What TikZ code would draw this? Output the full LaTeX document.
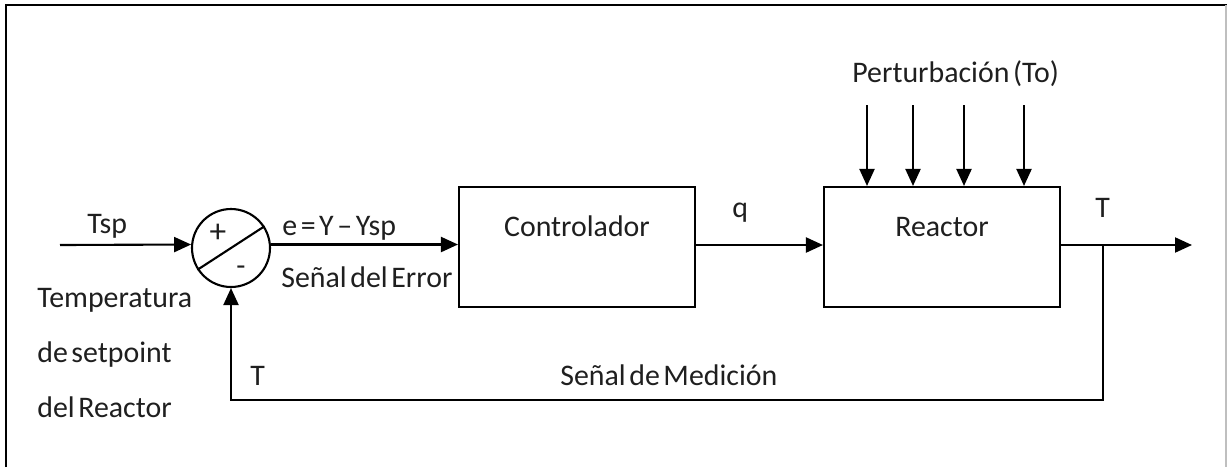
\documentclass[tikz,border=0pt]{standalone}
\usepackage{fontspec}
\setmainfont{Carlito}
\usetikzlibrary{arrows.meta,positioning,calc}
\newcommand{\tightsp}{\spaceskip=0.12em\relax}

\begin{document}
\begin{tikzpicture}[x=0.02cm, y=-0.02cm,
    block/.style={rectangle, draw, line width=1.2pt, minimum width=4.72cm, minimum height=2.4cm},
    sumnode/.style={circle, draw, line width=1.2pt, minimum size=1.56cm, inner sep=0pt},
    arrow/.style={-{Triangle[length=0.34cm, width=0.3cm]}, line width=1.2pt},
    wire/.style={line width=1.2pt},
    txt/.style={font=\fontsize{17}{20}\selectfont\tightsp, inner sep=0pt, text=black!88}
]
    \useasboundingbox (0,0) rectangle (1227,467);

    % Marco
    \draw[line width=1.6pt] (6,467) -- (6,5) -- (1227,5);
    \draw[black!25, line width=0.6pt] (1226,5) -- (1226,467);

    % Bloques
    \node[sumnode] (sum) at (231,248) {};
    \node[block] (ctrl) at (577,247) {};
    \node[block] (reactor) at (942,247) {};
    \node[txt, anchor=base] (ctrltxt) at ([yshift=-1.02cm]ctrl.north) {Controlador};
    \node[txt, anchor=base] (reactortxt) at ([yshift=-1.02cm]reactor.north) {Reactor};

    % Comparador
    \draw[wire] (sum.213) -- (sum.33);
    \node[txt, font=\fontsize{19}{20}\selectfont] (plus) at (218,233) {+};
    \node[txt] (minus) at (241,271) {-};

    % Coordenadas
    \coordinate (tspin) at (60,245);
    \coordinate (branch) at (1103,245);
    \coordinate (out) at (1192,245);
    \coordinate (fbr) at (1103,400);

    % Flechas
    \draw[arrow] (tspin) -- (sum.175);
    \draw[arrow] (sum.5) -- (sum.5 -| ctrl.west);
    \draw[arrow] (ctrl.east |- branch) -- (reactor.west |- branch);
    \draw[arrow] (reactor.east |- branch) -- (out);
    \draw[arrow] (branch) -- (fbr) -- (sum |- fbr) -- (sum.south);
    \foreach \x in {867,913,964,1024}
        \draw[arrow] (\x,105) -- (\x,0 |- reactor.north);

    % Textos
    \node[txt, anchor=base west] (tsp) at (87,233) {Tsp};
    \node[txt, anchor=base west] (err) at (282,235) {e = Y – Ysp};
    \node[txt, anchor=base west] (errsig) at (281,287) {Señal del Error};
    \node[txt, anchor=base west] (q) at (732,217) {q};
    \node[txt, anchor=base west] (tout) at (1095,217) {T};
    \node[txt, anchor=base west] (pert) at (852,82) {Perturbación (To)};
    \node[txt, anchor=west, align=left, font=\fontsize{17}{31.2}\selectfont\tightsp] (setp) at (37,353) {Temperatura\\de setpoint\\del Reactor};
    \node[txt, anchor=base west] (tfb) at (250,385) {T};
    \node[txt, anchor=base west] (meas) at (560,385) {Señal de Medición};
\end{tikzpicture}
\end{document}
